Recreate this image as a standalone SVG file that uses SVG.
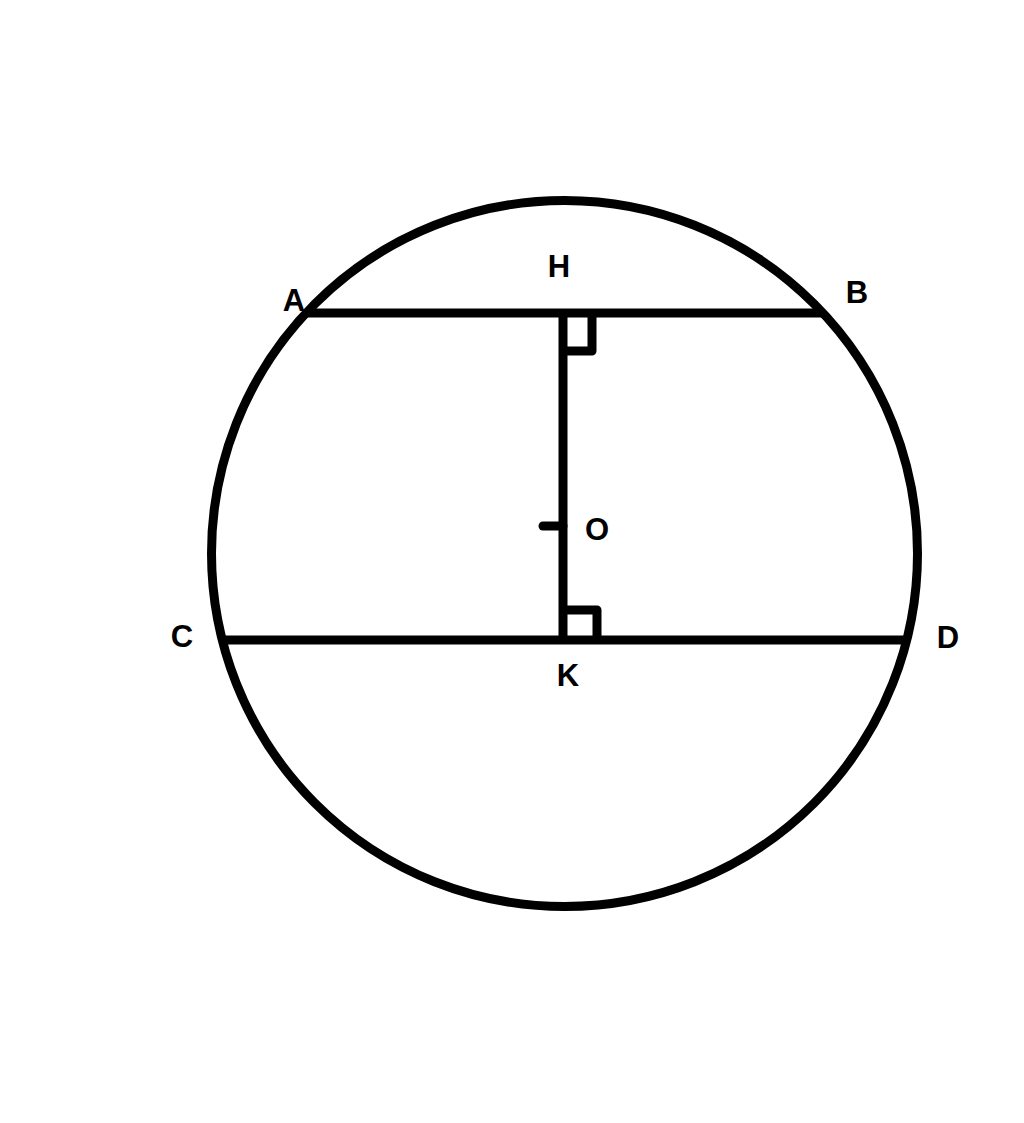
<svg xmlns="http://www.w3.org/2000/svg" width="1024" height="1123" viewBox="0 0 1024 1123">
<style>
.s{fill:none;stroke:#000;stroke-width:9;stroke-linejoin:round}
.t{font-family:"Liberation Sans",Arial,sans-serif;font-weight:bold;font-size:31px;fill:#000;text-anchor:middle}
</style>
<rect width="1024" height="1123" fill="#fff"/>
<g id="circle"><circle class="s" cx="564.5" cy="553.5" r="353"/></g>
<g id="connectors">
<line class="s" x1="306" y1="313" x2="823" y2="313"/>
<line class="s" x1="222" y1="640" x2="907" y2="640"/>
<line class="s" x1="563" y1="313" x2="563" y2="640"/>
<line class="s" x1="543" y1="526" x2="563" y2="526" stroke-linecap="round"/>
<path class="s" d="M563,351 H592 V313"/>
<path class="s" d="M563,610 H597 V640"/>
</g>
<g id="labels">
<text class="t" x="294" y="311">A</text>
<text class="t" x="857" y="303">B</text>
<text class="t" x="559" y="277">H</text>
<text class="t" x="597" y="540">O</text>
<text class="t" x="182" y="647">C</text>
<text class="t" x="948" y="648">D</text>
<text class="t" x="568" y="686">K</text>
</g>
</svg>
